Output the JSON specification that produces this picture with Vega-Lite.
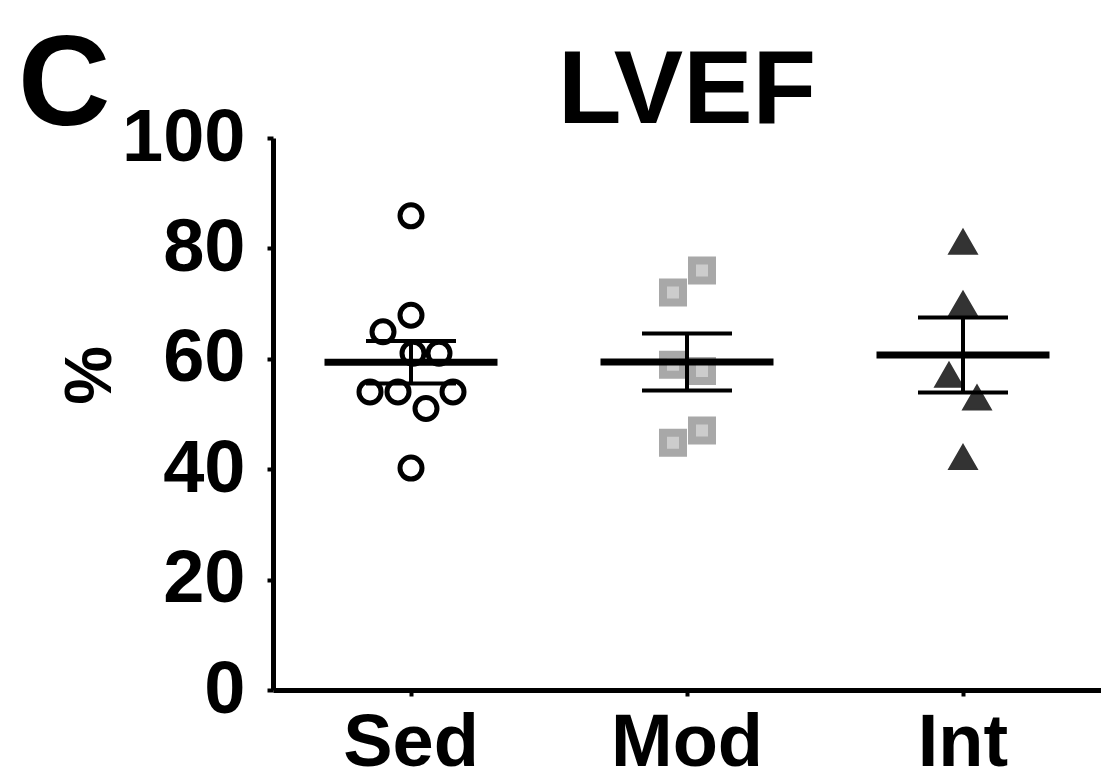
{
  "$schema": "https://vega.github.io/schema/vega-lite/v6.json",
  "width": 828,
  "height": 552,
  "autosize": {"type": "none"},
  "padding": {"left": 273, "top": 138, "right": 0, "bottom": 90},
  "background": "white",
  "title": {"text": "LVEF", "font": "Liberation Sans", "fontSize": 104, "fontWeight": "bold", "color": "black", "anchor": "middle", "offset": -122, "frame": "group"},
  "config": {"view": {"stroke": null}},
  "datasets": {
    "points": [
      {"group": "Sed", "value": 85.9, "jitter": 0},
      {"group": "Sed", "value": 67.9, "jitter": 0},
      {"group": "Sed", "value": 64.9, "jitter": -28},
      {"group": "Sed", "value": 61.0, "jitter": 2},
      {"group": "Sed", "value": 61.0, "jitter": 28},
      {"group": "Sed", "value": 54.0, "jitter": -41},
      {"group": "Sed", "value": 54.0, "jitter": -13},
      {"group": "Sed", "value": 54.0, "jitter": 42},
      {"group": "Sed", "value": 51.0, "jitter": 15},
      {"group": "Sed", "value": 40.2, "jitter": 0},
      {"group": "Mod", "value": 76.0, "jitter": 15},
      {"group": "Mod", "value": 72.0, "jitter": -14},
      {"group": "Mod", "value": 58.9, "jitter": -14},
      {"group": "Mod", "value": 57.8, "jitter": 15},
      {"group": "Mod", "value": 44.8, "jitter": -14},
      {"group": "Mod", "value": 47.0, "jitter": 15},
      {"group": "Int", "value": 81.2, "jitter": 0},
      {"group": "Int", "value": 70.0, "jitter": 0},
      {"group": "Int", "value": 57.1, "jitter": -14},
      {"group": "Int", "value": 53.0, "jitter": 14},
      {"group": "Int", "value": 42.2, "jitter": 0}
    ],
    "letters": [{"label": "C"}]
  },
  "layer": [
    {
      "data": {"name": "points"},
      "transform": [{"filter": "datum.group === 'Sed'"}],
      "mark": {"type": "point", "shape": "circle", "filled": false, "fill": "white", "stroke": "black", "strokeWidth": 5, "size": 484, "opacity": 1},
      "encoding": {
        "x": {"field": "group", "type": "nominal",
          "scale": {"domain": ["Sed", "Mod", "Int"], "paddingInner": 0, "paddingOuter": 0},
          "axis": {"title": null, "labelAngle": 0, "labelFont": "Liberation Sans", "labelFontSize": 74, "labelFontWeight": "bold", "labelColor": "black", "labelPadding": 69, "labelBaseline": "alphabetic",
            "domainColor": "black", "domainWidth": 5, "tickColor": "black", "tickWidth": 4, "tickSize": 6, "grid": false}},
        "xOffset": {"field": "jitter", "type": "quantitative", "scale": {"domain": [-138, 138], "range": [0, 276]}},
        "y": {"field": "value", "type": "quantitative",
          "scale": {"domain": [0, 100]},
          "axis": {"title": "%", "titleFont": "Liberation Sans", "titleFontSize": 66, "titleFontWeight": "bold", "titleColor": "black", "titleAngle": -90, "titleX": -183, "titleY": 237, "titleAlign": "center", "titleBaseline": "middle",
            "values": [0, 20, 40, 60, 80, 100], "labelFont": "Liberation Sans", "labelFontSize": 74, "labelFontWeight": "bold", "labelColor": "black", "labelPadding": 22,
            "domainColor": "black", "domainWidth": 5, "tickColor": "black", "tickWidth": 4, "tickSize": 6, "grid": false}}
      }
    },
    {
      "data": {"name": "points"},
      "transform": [{"filter": "datum.group === 'Mod'"}],
      "mark": {"type": "point", "shape": "square", "filled": true, "fill": "#cccccc", "stroke": "#a8a8a8", "strokeWidth": 8, "size": 400, "opacity": 1},
      "encoding": {
        "x": {"field": "group", "type": "nominal"},
        "xOffset": {"field": "jitter", "type": "quantitative", "scale": {"domain": [-138, 138], "range": [0, 276]}},
        "y": {"field": "value", "type": "quantitative"}
      }
    },
    {
      "data": {"name": "points"},
      "transform": [{"filter": "datum.group === 'Int'"}],
      "mark": {"type": "point", "shape": "triangle-up", "filled": true, "fill": "#333333", "stroke": "#333333", "strokeWidth": 2, "size": 760, "opacity": 1},
      "encoding": {
        "x": {"field": "group", "type": "nominal"},
        "xOffset": {"field": "jitter", "type": "quantitative", "scale": {"domain": [-138, 138], "range": [0, 276]}},
        "y": {"field": "value", "type": "quantitative"}
      }
    },
    {
      "data": {"name": "points"},
      "transform": [
        {"aggregate": [{"op": "mean", "field": "value", "as": "mean"}, {"op": "stderr", "field": "value", "as": "sem"}], "groupby": ["group"]},
        {"calculate": "datum.mean - datum.sem", "as": "lo"},
        {"calculate": "datum.mean + datum.sem", "as": "hi"}
      ],
      "encoding": {"x": {"field": "group", "type": "nominal"}},
      "layer": [
        {"mark": {"type": "rule", "color": "black", "strokeWidth": 4}, "encoding": {"y": {"field": "lo", "type": "quantitative"}, "y2": {"field": "hi"}}},
        {"mark": {"type": "tick", "orient": "horizontal", "color": "black", "size": 90, "thickness": 4, "opacity": 1}, "encoding": {"y": {"field": "lo", "type": "quantitative"}}},
        {"mark": {"type": "tick", "orient": "horizontal", "color": "black", "size": 90, "thickness": 4, "opacity": 1}, "encoding": {"y": {"field": "hi", "type": "quantitative"}}},
        {"mark": {"type": "tick", "orient": "horizontal", "color": "black", "size": 173, "thickness": 7, "opacity": 1}, "encoding": {"y": {"field": "mean", "type": "quantitative"}}}
      ]
    },
    {
      "data": {"name": "letters"},
      "mark": {"type": "text", "font": "Liberation Sans", "fontSize": 128, "fontWeight": "bold", "color": "black", "align": "left", "baseline": "alphabetic", "x": -255, "y": -13},
      "encoding": {"text": {"field": "label"}}
    }
  ]
}
